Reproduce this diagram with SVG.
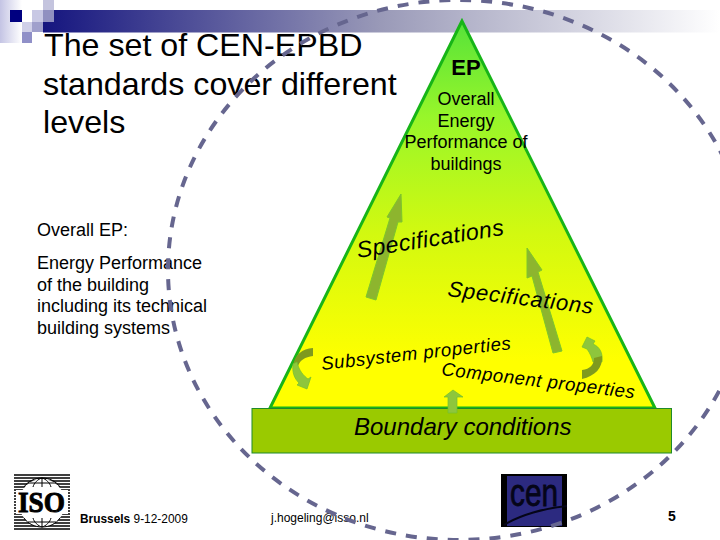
<svg xmlns="http://www.w3.org/2000/svg" width="720" height="540" viewBox="0 0 720 540">
<style>
.s{font-family:"Liberation Sans",Arial,sans-serif;fill:#000}
.t{font-size:32.200px}
.b{font-size:18px}
.e{font-size:18px;text-anchor:middle}
.i{font-style:italic}
.a{fill:#8db52e;stroke:#7cc62c;stroke-width:1}
.l{fill:#8ec63c;stroke:#72c02c;stroke-width:.7}
.d{fill:#7f9a1e}
</style>
<defs>
<linearGradient id="bar" x1="0" x2="1" y1="0" y2="0"><stop offset="0" stop-color="#15157f"/><stop offset="0.5" stop-color="#9a9ab8"/><stop offset="1" stop-color="#ffffff"/></linearGradient>
<linearGradient id="side" x1="0" x2="1" y1="0" y2="0"><stop offset="0" stop-color="#c4c4e4"/><stop offset="1" stop-color="#ffffff"/></linearGradient>
<linearGradient id="tri" gradientUnits="userSpaceOnUse" x1="0" x2="0" y1="20" y2="408"><stop offset="0" stop-color="#55e23a"/><stop offset="0.25" stop-color="#98f62a"/><stop offset="0.55" stop-color="#d2f910"/><stop offset="0.88" stop-color="#ffff00"/></linearGradient>
</defs>
<g id="header">
<rect x="43" y="10" width="677" height="22.500" fill="url(#bar)"/>
<rect x="0" y="0" width="22" height="43" fill="url(#side)"/>
<rect x="10" y="10" width="12" height="12" fill="#000080"/>
<rect x="43" y="0" width="11" height="10" fill="#c4c4de"/>
<rect x="43" y="10" width="11" height="12" fill="#9090c0"/>
<rect x="32" y="10" width="11" height="12" fill="#c8c8e4"/>
<rect x="22" y="22" width="10" height="10" fill="#d0d0e8"/>
<rect x="32" y="22" width="11" height="10" fill="#a0a0cc"/>
<rect x="22" y="32" width="10" height="11" fill="#9090c8"/>
</g>
<g id="triangle"><polygon points="462,21 270,408 655,408" fill="url(#tri)" stroke="#17b517" stroke-width="3"/></g>
<g id="boundary"><rect x="252" y="408.500" width="419.500" height="44.500" fill="#9aca00" stroke="#1f8a2a" stroke-width="1"/>
<text class="s i" x="354" y="435" font-size="24" fill="#0a2a00">Boundary conditions</text></g>
<g id="arrows">
<polygon class="a" points="401,194 387,217 390,218 366,297 376,300 398,222 402,222"/>
<polygon class="a" points="527,248 527,278 532,276 553,353 562,351 538,272 542,270"/>
<polygon class="l" points="453,390 444,397 448,397 448,413 457,413 457,397 463,397"/>
<path class="d" d="M313,348 C302,349 295,354 293,366 L298,366 C300,360 305,357 313,356Z"/>
<path class="l" d="M293,364 C292,372 294,378 299,383 L297,385 L307,389 L311,377 L308,379 C304,376 299,371 297,362 Z"/>
<path class="l" d="M587,337 L582,347 L587,349 C590,353 592,358 593,362 L602,362 C603,353 600,347 593,344 L595,341 Z"/>
<path class="d" d="M602,356 C603,368 595,376 582,379 L582,370 C590,369 594,365 594,358Z"/>
</g>
<g id="title" class="s t"><text x="44" y="56">The set of CEN-EPBD</text><text x="43" y="95">standards cover different</text><text x="43" y="133">levels</text></g>
<g id="ep-label" class="s">
<text class="e" x="466" y="75" font-weight="bold" style="font-size:22px">EP</text>
<text class="e" x="466" y="105">Overall</text><text class="e" x="466" y="127">Energy</text><text class="e" x="466" y="148">Performance of</text><text class="e" x="466" y="170">buildings</text>
</g>
<g id="desc" class="s b"><text x="37" y="236">Overall EP:</text><text x="37" y="269">Energy Performance</text><text x="37" y="291">of the building</text><text x="37" y="312">including its technical</text><text x="37" y="334">building systems</text></g>
<g id="rotated" class="s i">
<text transform="translate(358,258) rotate(-9)" font-size="23" letter-spacing=".5">Specifications</text>
<text transform="translate(447,296) rotate(7)" font-size="22" letter-spacing=".8">Specifications</text>
<text transform="translate(322,370) rotate(-6.300)" font-size="18.500" letter-spacing=".6">Subsystem properties</text>
<text transform="translate(441,375) rotate(6.900)" font-size="18.500" letter-spacing=".6">Component properties</text>
</g>
<g id="iso">
<path stroke="#000" stroke-width="1.500" d="M14 475H70M14 478H70M14 481H70M14 484H70M14 487H70M14 490H70M14 493H70M14 496H70M14 499H70M14 502H70M14 505H70M14 508H70M14 511H70M14 514H70M14 517H70M14 520H70M14 523H70M14 526H70M14 529H70"/>
<ellipse cx="42" cy="503" rx="23" ry="24" fill="#fff"/>
<rect x="16" y="490" width="52" height="24" fill="#fff"/>
<path fill="none" stroke="#000" stroke-width="1" d="M24 487C28 481 35 478 42 478C49 478 56 481 60 487M24 518C28 524 35 527 42 527C49 527 56 524 60 518M42 478V487M42 518V527M33 487C34 483 38 479 42 478C46 479 50 483 51 487M33 518C34 522 38 526 42 527C46 526 50 522 51 518M28 483H56M28 522H56"/>
<text x="18" y="512" textLength="47" lengthAdjust="spacingAndGlyphs" font-family="Liberation Serif,serif" font-weight="bold" font-size="29" fill="#000" stroke="#000" stroke-width=".9">ISO</text>
</g>
<g id="footer" class="s"><text x="80" y="523" font-size="11.900"><tspan font-weight="bold">Brussels</tspan> 9-12-2009</text>
<text x="271" y="522" font-size="12">j.hogeling@isso.nl</text>
<text x="668" y="521" font-size="14" font-weight="bold">5</text></g>
<g id="cen"><rect x="501" y="474" width="66" height="53" fill="#000"/><rect x="507" y="476" width="55" height="50" fill="#2c2a80"/><text x="510" y="506" textLength="48" lengthAdjust="spacingAndGlyphs" font-family="Liberation Sans,sans-serif" font-size="38" fill="#050518" stroke="#050518" stroke-width=".8">cen</text><path d="M504 525C520 515 545 508 567 506" fill="none" stroke="#050518" stroke-width="2"/></g>
<g id="ellipse"><ellipse cx="459" cy="270" rx="291" ry="270" fill="none" stroke="#66668f" stroke-width="4" stroke-dasharray="11 10"/></g>
</svg>
